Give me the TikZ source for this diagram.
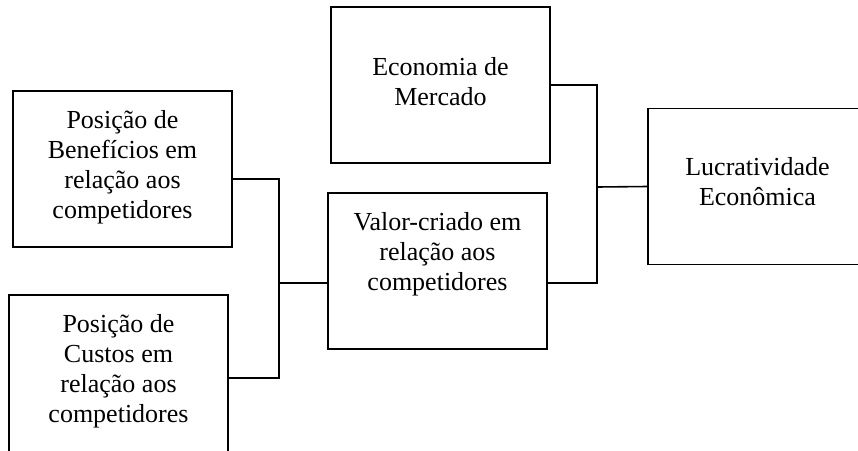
\documentclass[tikz,border=0pt]{standalone}
\usepackage{fontspec}
\setmainfont{Liberation Serif}
\begin{document}
\begin{tikzpicture}[x=1pt,y=-1pt,
  box/.style={draw,line width=1.6pt,rectangle,inner sep=0pt,minimum width=219pt,minimum height=156pt},
  txt/.style={anchor=north,inner sep=0pt,align=center,font=\fontsize{26}{30}\selectfont},
  link/.style={line width=1.6pt}]
\clip (0,0) rectangle (858,450);
\fill[white] (0,0) rectangle (858,450);
% boxes
\node[box] (ben) at (122.5,169) {};
\node[box,minimum height=170pt] (cus) at (118.5,380) {};
\node[box] (val) at (437.5,271) {};
\node[box] (eco) at (440.5,85) {};
\node[box,minimum width=240pt] (luc) at (768,186.5) {};
% texts
\node[txt] (bent) at (122.5,110) {Posição de\\Benefícios em\\relação aos\\competidores};
\node[txt] (cust) at (118.5,314) {Posição de\\Custos em\\relação aos\\competidores};
\node[txt] (valt) at (437.5,212) {Valor-criado em\\relação aos\\competidores};
\node[txt] (ecot) at (440.5,57) {Economia de\\Mercado};
\node[txt] (luct) at (757.5,157) {Lucratividade\\Econômica};
% junctions
\coordinate (j1) at (279,283);
\coordinate (j2) at (597,187);
% connectors
\draw[link] ([yshift=-10pt]ben.east) -| (j1) |- ([yshift=2pt]cus.east);
\draw[link] (j1) -- ([yshift=-12pt]val.west);
\draw[link] (eco.east) -| (j2) |- ([yshift=-12pt]val.east);
\draw[link] (j2) -- (luc.west);
\end{tikzpicture}
\end{document}
